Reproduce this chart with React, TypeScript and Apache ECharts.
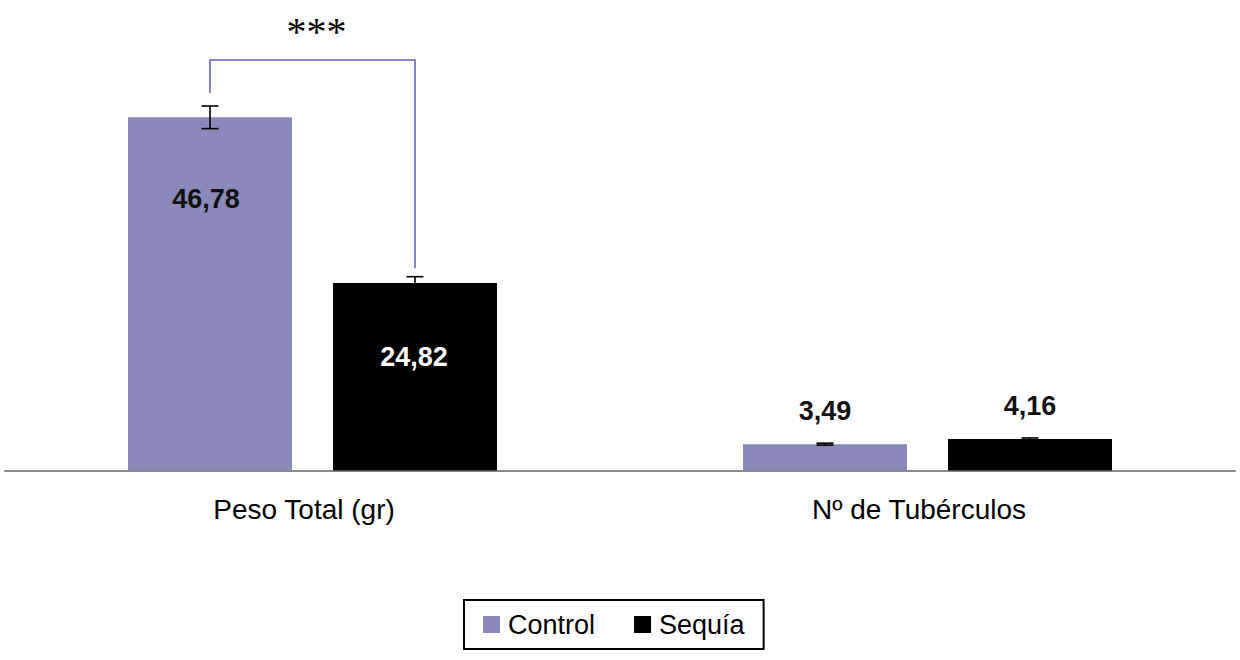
import React, { useEffect, useRef } from "react";
import * as echarts from "echarts";

const categories = ["Peso Total (gr)", "Nº de Tubérculos"];
const seriesNames = ["Control", "Sequía"];
const controlValues = [46.78, 3.49];
const sequiaValues = [24.82, 4.16];
const controlErrors = [1.5, 0.13];
const sequiaErrors = [0.85, 0.15];
// bracket: [topValue, leftBottomValue, rightBottomValue, starsValue]
const bracketValues = [54.37, 50.0, 26.8, 58.2];
const bracketLabel = "***";

const purple = "#8b89bb";
const black = "#000000";
const font = "Liberation Sans";

const fmt = (v: number) => v.toFixed(2).replace(".", ",");

export default function App() {
  const ref = useRef<HTMLDivElement>(null);
  useEffect(() => {
    document.body.style.margin = "0";
    const chart = echarts.init(ref.current!, null, { renderer: "svg" });

    const labelBase = {
      show: true,
      fontFamily: font,
      fontSize: 27,
      fontWeight: "bold" as const,
      formatter: (p: any) => fmt(p.value),
    };

    const controlData = controlValues.map((v, i) => ({
      value: v,
      label:
        i === 0
          ? { position: "insideTop", distance: 68, color: "#111", padding: [0, 8, 0, 0] }
          : { position: "top", distance: 20, color: "#111" },
    }));
    const sequiaData = sequiaValues.map((v, i) => ({
      value: v,
      label:
        i === 0
          ? { position: "insideTop", distance: 60, color: "#fff", padding: [0, 2, 0, 0] }
          : { position: "top", distance: 20, color: "#111" },
    }));

    const errData: number[][] = [];
    controlValues.forEach((v, i) => errData.push([i, 0, v, controlErrors[i]]));
    sequiaValues.forEach((v, i) => errData.push([i, 1, v, sequiaErrors[i]]));

    const option: any = {
      animation: false,
      grid: { left: 5, right: 5, top: 17.5, bottom: 189.5 },
      legend: {
        data: seriesNames,
        left: 464,
        top: 600,
        orient: "horizontal",
        icon: "rect",
        itemWidth: 17,
        itemHeight: 17,
        itemGap: 39,
        padding: [11, 19, 11, 19],
        borderColor: "#000",
        borderWidth: 2,
        textStyle: { fontFamily: font, fontSize: 27, color: "#000", padding: [0, 0, 0, 3] },
      },
      xAxis: {
        type: "category",
        data: categories,
        axisLine: { lineStyle: { color: "#8a8a8a", width: 2 } },
        axisTick: { show: false },
        axisLabel: {
          fontFamily: font,
          fontSize: 28,
          color: "#000",
          margin: 25,
          padding: [0, 17, 0, 0],
        },
      },
      yAxis: { type: "value", min: 0, max: 60, show: false, splitLine: { show: false } },
      series: [
        {
          name: seriesNames[0],
          type: "bar",
          barWidth: 164,
          barGap: "25%",
          itemStyle: { color: purple },
          label: labelBase,
          data: controlData,
        },
        {
          name: seriesNames[1],
          type: "bar",
          barWidth: 164,
          barGap: "25%",
          itemStyle: { color: black },
          label: labelBase,
          data: sequiaData,
        },
        {
          type: "custom",
          z: 10,
          silent: true,
          encode: { x: 0, y: 2 },
          data: errData,
          renderItem: (params: any, api: any) => {
            const cat = api.value(0);
            const s = api.value(1);
            const v = api.value(2);
            const e = api.value(3);
            const band = api.size([1, 0])[0];
            const cx = api.coord([cat, 0])[0] + (s === 0 ? -1 : 1) * (band / 6);
            const yt = api.coord([cat, v + e])[1];
            const yb = api.coord([cat, v - e])[1];
            const hw = 8.5;
            const st = { stroke: "#000", lineWidth: 1.6 };
            return {
              type: "group",
              children: [
                { type: "line", shape: { x1: cx, y1: yt, x2: cx, y2: yb }, style: st },
                { type: "line", shape: { x1: cx - hw, y1: yt, x2: cx + hw, y2: yt }, style: st },
                { type: "line", shape: { x1: cx - hw, y1: yb, x2: cx + hw, y2: yb }, style: st },
              ],
            };
          },
        },
        {
          type: "custom",
          z: 10,
          silent: true,
          encode: { x: 0, y: 1 },
          data: [[0, bracketValues[0]]],
          renderItem: (params: any, api: any) => {
            const band = api.size([1, 0])[0];
            const c = api.coord([0, 0])[0];
            const xl = c - band / 6;
            const xr = c + band / 6;
            const yTop = api.coord([0, bracketValues[0]])[1];
            const yL = api.coord([0, bracketValues[1]])[1];
            const yR = api.coord([0, bracketValues[2]])[1];
            const yS = api.coord([0, bracketValues[3]])[1];
            return {
              type: "group",
              children: [
                {
                  type: "polyline",
                  shape: { points: [[xl, yL], [xl, yTop], [xr, yTop], [xr, yR]] },
                  style: { stroke: "#8585c4", lineWidth: 2, fill: null },
                },
                {
                  type: "text",
                  x: (xl + xr) / 2 + 4,
                  y: yS,
                  style: {
                    text: bracketLabel,
                    fontFamily: "Liberation Serif",
                    fontSize: 40,
                    fill: "#000",
                    align: "center",
                    verticalAlign: "middle",
                  },
                },
              ],
            };
          },
        },
      ],
    };
    chart.setOption(option);
    return () => chart.dispose();
  }, []);
  return (
    <div
      ref={ref}
      style={{ width: 1240, height: 660, position: "absolute", left: 0, top: 0, background: "#fff" }}
    />
  );
}
